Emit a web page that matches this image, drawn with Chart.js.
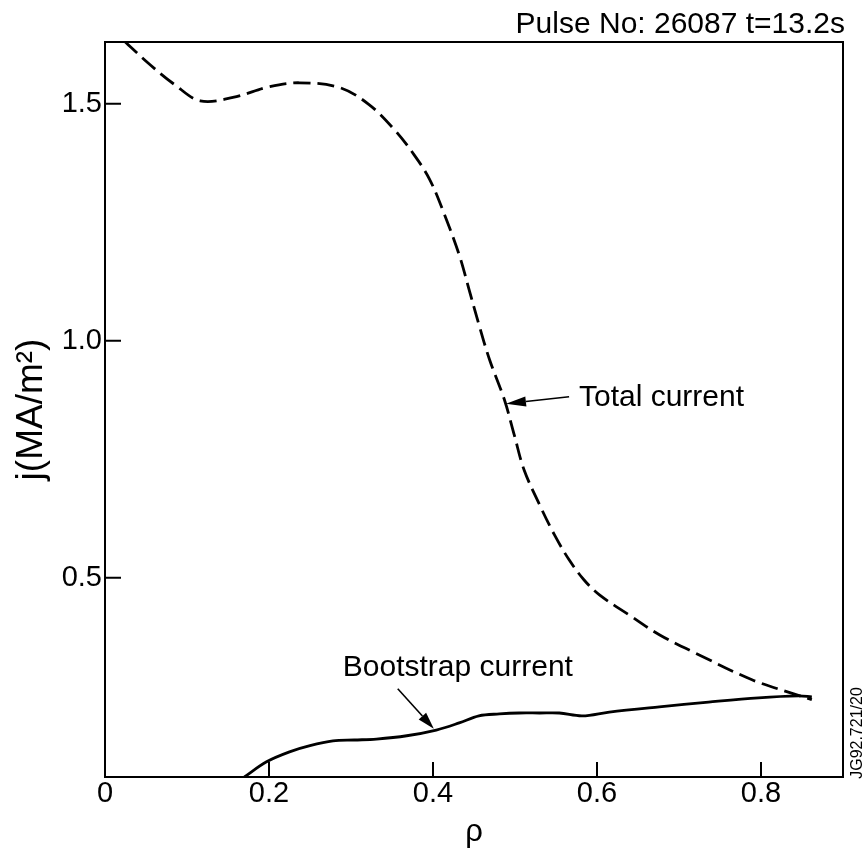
<!DOCTYPE html>
<html><head><meta charset="utf-8">
<script src="https://cdn.jsdelivr.net/npm/chart.js@4/dist/chart.umd.min.js"></script>
<style>html,body{margin:0;padding:0;background:#fff;}canvas{display:block;}</style>
</head><body>
<canvas id="c" width="866" height="848"></canvas>
<script>
// ---- data ----
const rhoTotal = [0.024,0.055,0.085,0.116,0.156,0.201,0.237,0.286,0.322,0.353,0.377,0.396,0.414,0.432,0.444,0.456,0.469,0.487,0.499,0.511,0.530,0.548,0.566,0.584,0.603,0.639,0.676,0.724,0.789,0.837,0.862];
const jTotal   = [1.631,1.582,1.540,1.506,1.513,1.536,1.544,1.534,1.498,1.445,1.392,1.340,1.266,1.181,1.108,1.034,0.960,0.876,0.802,0.728,0.654,0.591,0.538,0.496,0.464,0.422,0.380,0.338,0.285,0.257,0.243];
const rhoBoot  = [0.170,0.197,0.225,0.250,0.278,0.304,0.331,0.368,0.404,0.432,0.456,0.481,0.505,0.530,0.554,0.582,0.615,0.676,0.736,0.797,0.846,0.862];
const jBoot    = [0.080,0.112,0.133,0.146,0.156,0.158,0.160,0.167,0.179,0.194,0.209,0.213,0.215,0.215,0.215,0.209,0.217,0.228,0.238,0.247,0.251,0.249];
const xTickValues = [0, 0.2, 0.4, 0.6, 0.8];
const xTickLabels = ['0', '0.2', '0.4', '0.6', '0.8'];
const yTickValues = [0.5, 1.0, 1.5];
const yTickLabels = ['0.5', '1.0', '1.5'];
const xRange = [0, 0.9];
const yRange = [0.08, 1.63];
const titleText = 'Pulse No: 26087 t=13.2s';
const xAxisTitle = 'ρ';
const yAxisTitle = 'j(MA/m²)';
const totalLabel = 'Total current';
const bootLabel = 'Bootstrap current';
const figCode = 'JG92.721/20';

const FONT = "'Liberation Sans', Arial, Helvetica, sans-serif";

function arrow(ctx, x1, y1, x2, y2, len, half) {
  const a = Math.atan2(y2 - y1, x2 - x1);
  const bx = x2 - len * Math.cos(a), by = y2 - len * Math.sin(a);
  ctx.beginPath(); ctx.moveTo(x1, y1); ctx.lineTo(bx, by); ctx.stroke();
  ctx.beginPath();
  ctx.moveTo(x2, y2);
  ctx.lineTo(bx + half * Math.sin(a), by - half * Math.cos(a));
  ctx.lineTo(bx - half * Math.sin(a), by + half * Math.cos(a));
  ctx.closePath(); ctx.fill();
}

const decor = {
  id: 'decor',
  beforeDraw(chart) {
    const ctx = chart.ctx;
    ctx.save(); ctx.fillStyle = '#fff'; ctx.fillRect(0, 0, chart.width, chart.height); ctx.restore();
  },
  afterDraw(chart) {
    const ctx = chart.ctx, ca = chart.chartArea;
    const xs = chart.scales.x, ys = chart.scales.y;
    ctx.save();
    ctx.strokeStyle = '#000'; ctx.fillStyle = '#000';
    // frame
    ctx.lineWidth = 2;
    ctx.strokeRect(ca.left, ca.top, ca.right - ca.left, ca.bottom - ca.top);
    // inward ticks
    ctx.beginPath();
    xTickValues.forEach(v => {
      if (v === xRange[0]) return;
      const p = xs.getPixelForValue(v);
      ctx.moveTo(p, ca.bottom); ctx.lineTo(p, ca.bottom - 15);
    });
    yTickValues.forEach(v => {
      const p = ys.getPixelForValue(v);
      ctx.moveTo(ca.left, p); ctx.lineTo(ca.left + 16, p);
    });
    ctx.stroke();
    // title
    ctx.font = '30px ' + FONT;
    ctx.textAlign = 'right'; ctx.textBaseline = 'alphabetic';
    ctx.fillText(titleText, 845, 33);
    // annotations
    ctx.textAlign = 'left'; ctx.textBaseline = 'middle';
    ctx.fillText(totalLabel, xs.getPixelForValue(0.578), ys.getPixelForValue(0.880));
    ctx.fillText(bootLabel, xs.getPixelForValue(0.290), ys.getPixelForValue(0.310));
    ctx.lineWidth = 1.6;
    arrow(ctx, xs.getPixelForValue(0.566), ys.getPixelForValue(0.882),
               xs.getPixelForValue(0.489), ys.getPixelForValue(0.867), 20, 5);
    arrow(ctx, xs.getPixelForValue(0.357), ys.getPixelForValue(0.266),
               xs.getPixelForValue(0.401), ys.getPixelForValue(0.182), 17, 5);
    // figure code, rotated
    ctx.save();
    ctx.translate(858, 733);
    ctx.rotate(-Math.PI / 2);
    ctx.font = '16px ' + FONT;
    ctx.textAlign = 'center'; ctx.textBaseline = 'middle';
    ctx.fillText(figCode, 0, 0);
    ctx.restore();
    ctx.restore();
  }
};

new Chart(document.getElementById('c'), {
  type: 'line',
  data: {
    datasets: [
      {
        label: totalLabel,
        data: rhoTotal.map((x, i) => ({ x, y: jTotal[i] })),
        borderColor: '#000', borderWidth: 2.8, borderDash: [17, 7],
        pointRadius: 0, tension: 0.35, fill: false
      },
      {
        label: bootLabel,
        data: rhoBoot.map((x, i) => ({ x, y: jBoot[i] })),
        borderColor: '#000', borderWidth: 2.8,
        pointRadius: 0, tension: 0.35, fill: false
      }
    ]
  },
  options: {
    responsive: false, animation: false,
    layout: { padding: { top: 42, right: 23, left: 0, bottom: 0 } },
    plugins: { legend: { display: false }, tooltip: { enabled: false }, title: { display: false } },
    scales: {
      x: {
        type: 'linear', min: xRange[0], max: xRange[1],
        afterBuildTicks: s => { s.ticks = xTickValues.map(v => ({ value: v })); },
        afterFit: s => { s.height = 71; },
        grid: { display: false, drawTicks: false },
        border: { display: false },
        ticks: { padding: 0, color: '#000', font: { family: FONT, size: 29 },
                 maxRotation: 0, autoSkip: false,
                 callback: (v, i) => xTickLabels[i] },
        title: { display: true, text: xAxisTitle, color: '#000',
                 font: { family: FONT, size: 31 }, padding: { top: 0, bottom: -3 } }
      },
      y: {
        type: 'linear', min: yRange[0], max: yRange[1],
        afterBuildTicks: s => { s.ticks = yTickValues.map(v => ({ value: v })); },
        afterFit: s => { s.width = 105; },
        grid: { display: false, drawTicks: false },
        border: { display: false },
        ticks: { padding: 3, color: '#000', font: { family: FONT, size: 29 },
                 autoSkip: false, callback: (v, i) => yTickLabels[i] },
        title: { display: true, text: yAxisTitle, color: '#000',
                 font: { family: FONT, size: 37 }, padding: { top: 10, bottom: 0 } }
      }
    }
  },
  plugins: [decor]
});
</script>
</body></html>
